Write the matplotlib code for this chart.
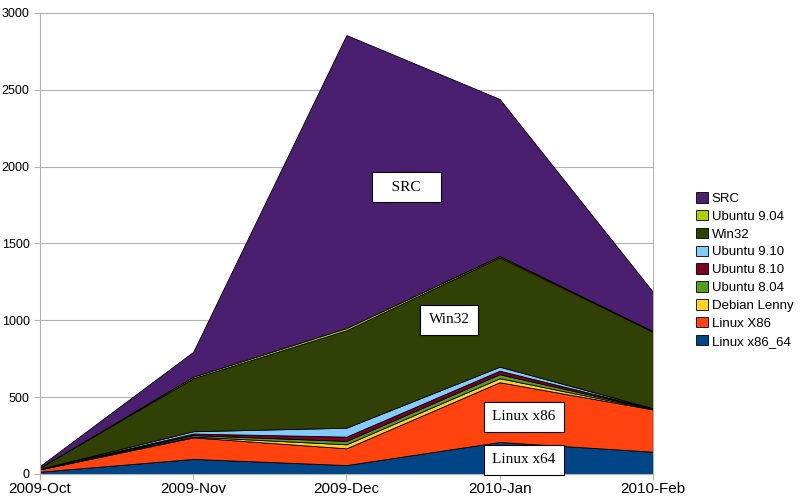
import matplotlib
matplotlib.use("Agg")
import matplotlib.pyplot as plt
from matplotlib.patches import Patch

plt.rcParams["font.family"] = ["Liberation Sans", "DejaVu Sans"]

months = ["2009-Oct", "2009-Nov", "2009-Dec", "2010-Jan", "2010-Feb"]

# stacked bottom to top
linux_x86_64 = [15, 98, 58, 208, 145]
linux_x86 = [15, 140, 109, 389, 275]
debian_lenny = [1, 5, 26, 26, 2]
ubuntu_804 = [1, 10, 22, 26, 2]
ubuntu_810 = [1, 10, 28, 23, 2]
ubuntu_910 = [1, 15, 58, 26, 2]
win32 = [8, 345, 634, 712, 498]
ubuntu_904 = [0, 10, 15, 8, 4]
src = [10, 162, 1906, 1022, 256]

series = [
    ("Linux x86_64", linux_x86_64, "#004586"),
    ("Linux X86", linux_x86, "#ff420e"),
    ("Debian Lenny", debian_lenny, "#ffd320"),
    ("Ubuntu 8.04", ubuntu_804, "#579d1c"),
    ("Ubuntu 8.10", ubuntu_810, "#7e0021"),
    ("Ubuntu 9.10", ubuntu_910, "#83caff"),
    ("Win32", win32, "#314004"),
    ("Ubuntu 9.04", ubuntu_904, "#aecf00"),
    ("SRC", src, "#4b1f6f"),
]

# in-chart labels: (text, x index, y value)
labels = [
    ("   SRC   ", 2.39, 1867),
    ("Win32", 2.67, 1002),
    ("Linux x86", 3.16, 371),
    ("Linux x64", 3.16, 91),
]

fig = plt.figure(figsize=(8, 4.96), dpi=100)
ax = fig.add_axes([0.05, 0.0444, 0.766, 0.9296])

x = list(range(len(months)))
ax.stackplot(x, *[s[1] for s in series], colors=[s[2] for s in series],
             edgecolor="black", linewidth=0.6, zorder=2)

ax.set_xlim(0, len(months) - 1)
ax.set_ylim(0, 3000)
ax.set_yticks(range(0, 3001, 500))
ax.set_xticks(x)
ax.set_xticklabels(months, fontsize=11)
ax.tick_params(axis="y", labelsize=9, length=4, color="#b3b3b3")
ax.tick_params(axis="x", length=4, color="#b3b3b3", pad=2)
ax.grid(axis="y", color="#b3b3b3", linewidth=0.8, zorder=0)
ax.set_axisbelow(True)
for sp in ax.spines.values():
    sp.set_color("#b3b3b3")

for (txt, lx, ly) in labels:
    ax.text(lx, ly, txt, ha="center", va="center", fontsize=11,
            family=["Liberation Serif", "DejaVu Serif"], zorder=5,
            bbox=dict(boxstyle="square,pad=0.55", facecolor="white",
                      edgecolor="black", linewidth=0.8))

handles = [Patch(facecolor=c, edgecolor="black", linewidth=0.6, label=n)
           for (n, _, c) in reversed(series)]
fig.legend(handles=handles, loc="center left", bbox_to_anchor=(0.864, 0.456),
           frameon=False, fontsize=9.5, handlelength=0.85, handleheight=0.85,
           handletextpad=0.3, labelspacing=0.38, borderaxespad=0)

fig.savefig("out.png", dpi=100)
